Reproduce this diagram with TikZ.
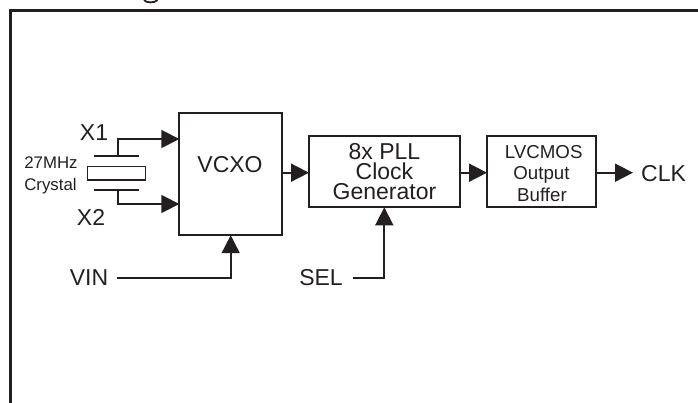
\documentclass[tikz,border=0pt]{standalone}
\usepackage{fontspec}
\setmainfont{Liberation Sans}
\usetikzlibrary{arrows.meta}
\definecolor{ink}{HTML}{231F20}
\tikzset{
  x=1pt,y=-1pt,
  blockbox/.style={draw=ink,line width=1.7pt,inner sep=0pt,outer sep=0pt,anchor=north west},
  conn/.style={draw=ink,line width=1.7pt},
  arrowed/.style={conn,-{Triangle[length=18pt,width=18pt,fill=ink]}},
  lab/.style={text=ink,font=\fontsize{23}{20}\selectfont,inner sep=0pt,align=center},
  smalllab/.style={text=ink,font=\fontsize{18.7}{20}\selectfont,inner sep=0pt},
  tinylab/.style={text=ink,font=\fontsize{16.8}{18}\selectfont,inner sep=0pt},
  plate/.style={draw=ink,line width=1.5pt}
}
\begin{document}
\begin{tikzpicture}
\useasboundingbox (0,0) rectangle (698,403);
\draw[ink,line width=2.6pt] (10.5,403) -- (10.5,10.5) -- (698,10.5);
\draw[ink,line width=1.8pt] (144,0) .. controls (146,3.2) and (155,3.2) .. (157.5,0);
\node[blockbox,minimum width=103pt,minimum height=122.5pt] (vcxo) at (179.3,112.7) {};
\node[blockbox,minimum width=151pt,minimum height=71.6pt] (pll) at (309,135.7) {};
\node[blockbox,minimum width=109pt,minimum height=71.6pt] (buf) at (487,135.7) {};
\node[lab] (vcxotext) at (230,165) {VCXO};
\node[lab] (plltext) at (384.5,171.7) {8x PLL\\Clock\\Generator};
\node[smalllab] (buf1) at (543.7,151.7) {LVCMOS};
\node[smalllab] (buf2) at (541.5,175) {Output};
\node[smalllab] (buf3) at (542,195) {Buffer};
\node[lab] (x1) at (94,133) {X1};
\node[lab] (x2) at (91,217) {X2};
\node[tinylab] (f) at (51,163) {27MHz};
\node[tinylab] (c) at (50.5,186) {Crystal};
\node[lab] (vin) at (89,278) {VIN};
\node[lab] (sel) at (321,278) {SEL};
\node[lab,anchor=west] (clk) at (641,173.3) {CLK};
\coordinate (t1) at (117.7,156);
\coordinate (t2) at (117.7,190);
\draw[plate] (94,156) -- (139,156);
\draw[plate] (94,190) -- (139,190);
\draw[plate] (87.5,166.7) rectangle (145.7,180);
\draw[arrowed] (t1) -- (117.7,139) -- (vcxo.west |- 0,139);
\draw[arrowed] (t2) -- (117.7,204) -- (vcxo.west |- 0,204);
\coordinate (vinend) at (117.3,278.3);
\draw[arrowed] (vinend) -- (230.7,278.3) -- (vcxo.south -| 230.7,0);
\coordinate (selend) at (353,278.3);
\draw[arrowed] (selend) -- (384.3,278.3) -- (pll.south -| 384.3,0);
\draw[arrowed] (vcxo.east |- 0,172.7) -- (pll.west |- 0,172.7);
\draw[arrowed] (pll.east |- 0,172.7) -- (buf.west |- 0,172.7);
\coordinate (clkend) at (633,172.7);
\draw[arrowed] (buf.east |- 0,172.7) -- (clkend);
\end{tikzpicture}
\end{document}
